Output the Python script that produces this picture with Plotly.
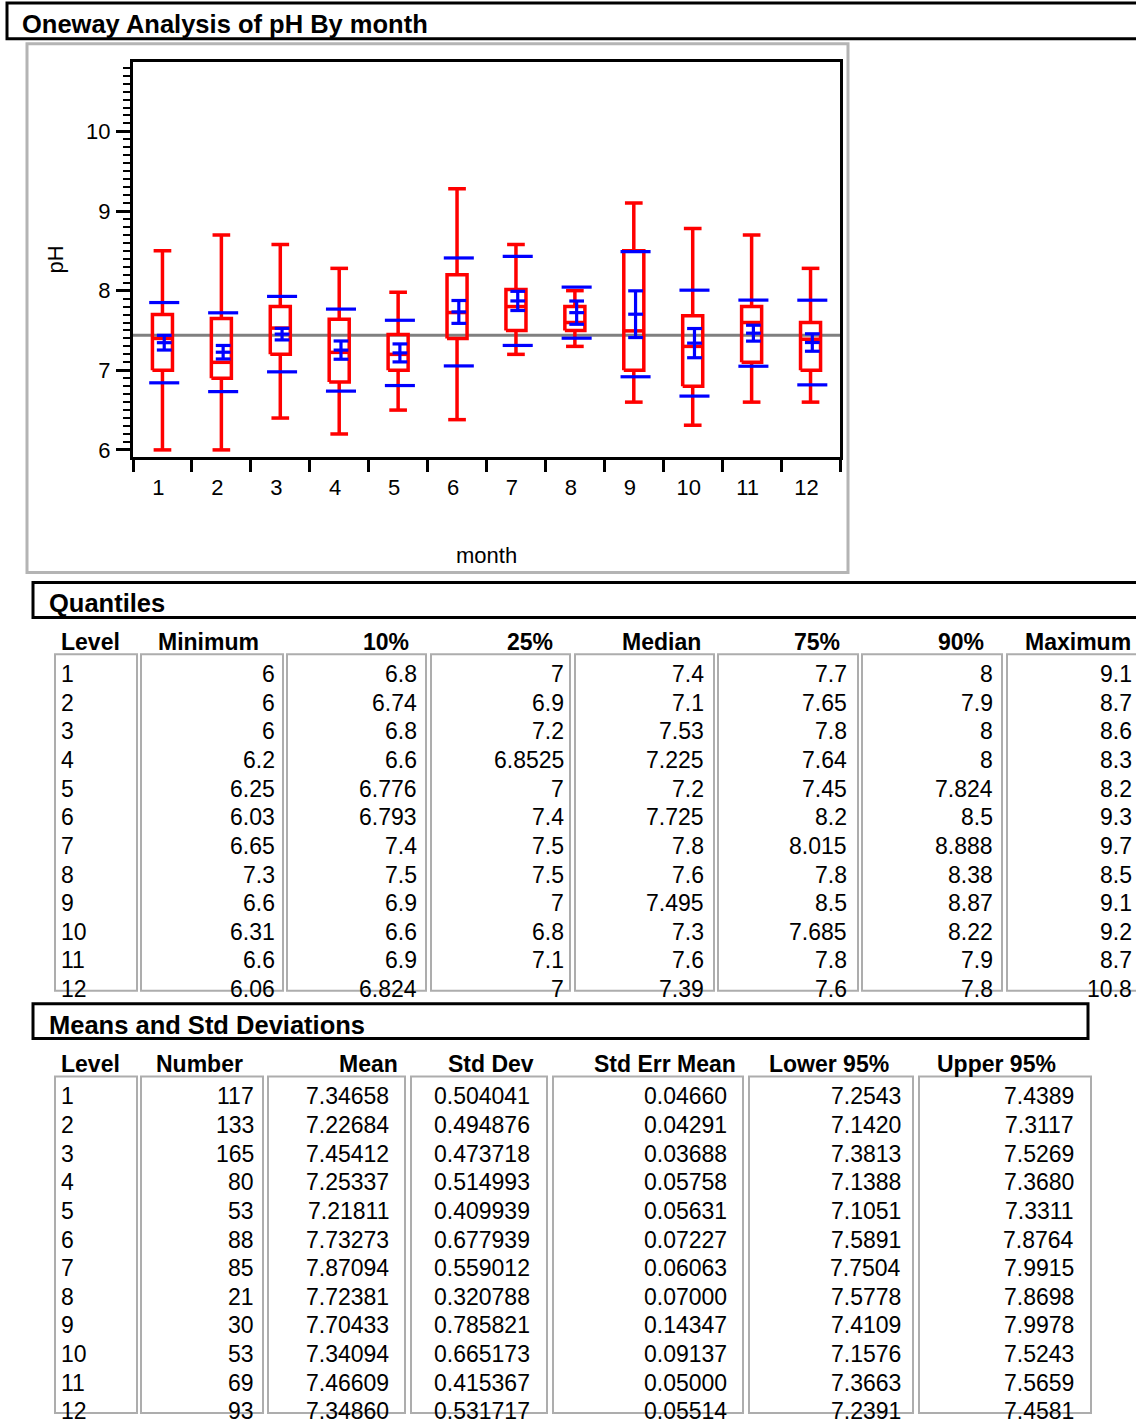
import plotly.graph_objects as go

# ---------------- data ----------------
months = [1, 2, 3, 4, 5, 6, 7, 8, 9, 10, 11, 12]
month_labels = [str(m) for m in months]

q_min = [6, 6, 6, 6.2, 6.25, 6.03, 6.65, 7.3, 6.6, 6.31, 6.6, 6.06]
q10 = [6.8, 6.74, 6.8, 6.6, 6.776, 6.793, 7.4, 7.5, 6.9, 6.6, 6.9, 6.824]
q25 = [7, 6.9, 7.2, 6.8525, 7, 7.4, 7.5, 7.5, 7, 6.8, 7.1, 7]
q50 = [7.4, 7.1, 7.53, 7.225, 7.2, 7.725, 7.8, 7.6, 7.495, 7.3, 7.6, 7.39]
q75 = [7.7, 7.65, 7.8, 7.64, 7.45, 8.2, 8.015, 7.8, 8.5, 7.685, 7.8, 7.6]
q90 = [8, 7.9, 8, 8, 7.824, 8.5, 8.888, 8.38, 8.87, 8.22, 7.9, 7.8]
q_max = [9.1, 8.7, 8.6, 8.3, 8.2, 9.3, 9.7, 8.5, 9.1, 9.2, 8.7, 10.8]

# whisker ends as drawn in the box plot
whisker_lo = [6.0, 6.0, 6.4, 6.2, 6.5, 6.38, 7.2, 7.3, 6.6, 6.31, 6.6, 6.6]
whisker_hi = [8.5, 8.7, 8.58, 8.28, 7.98, 9.28, 8.58, 8.0, 9.1, 8.78, 8.7, 8.28]

n_obs = [117, 133, 165, 80, 53, 88, 85, 21, 30, 53, 69, 93]
mean = [7.34658, 7.22684, 7.45412, 7.25337, 7.21811, 7.73273, 7.87094, 7.72381,
        7.70433, 7.34094, 7.46609, 7.34860]
std_dev = [0.504041, 0.494876, 0.473718, 0.514993, 0.409939, 0.677939, 0.559012,
           0.320788, 0.785821, 0.665173, 0.415367, 0.531717]
std_err = [0.04660, 0.04291, 0.03688, 0.05758, 0.05631, 0.07227, 0.06063, 0.07000,
           0.14347, 0.09137, 0.05000, 0.05514]
lower95 = [7.2543, 7.1420, 7.3813, 7.1388, 7.1051, 7.5891, 7.7504, 7.5778,
           7.4109, 7.1576, 7.3663, 7.2391]
upper95 = [7.4389, 7.3117, 7.5269, 7.3680, 7.3311, 7.8764, 7.9915, 7.8698,
           7.9978, 7.5243, 7.5659, 7.4581]
grand_mean = 7.44

title_main = "Oneway Analysis of pH By month"
title_quant = "Quantiles"
title_means = "Means and Std Deviations"
quant_headers = ["Level", "Minimum", "10%", "25%", "Median", "75%", "90%", "Maximum"]
means_headers = ["Level", "Number", "Mean", "Std Dev", "Std Err Mean", "Lower 95%", "Upper 95%"]

# ---------------- layout helpers ----------------
W, H = 1136, 1425
FONT = "Liberation Sans, Arial, sans-serif"
RED = "#FF0000"
BLUE = "#0000FF"
TDY = 3.5  # vertical text adjustment


def X(px):
    return px / W


def Y(py):
    return 1 - py / H


fig = go.Figure()

# grand mean line
fig.add_trace(go.Scatter(x=[0.5, 12.5], y=[grand_mean, grand_mean], mode="lines",
                         line=dict(color="#808080", width=3), hoverinfo="skip"))

# red box plots
HW, CW = 0.17, 0.15
bx, by = [], []
for m, lo, a, md, b, hi in zip(months, whisker_lo, q25, q50, q75, whisker_hi):
    bx += [m - HW, m + HW, m + HW, m - HW, m - HW, None]
    by += [a, a, b, b, a, None]
    bx += [m - HW, m + HW, None]
    by += [md, md, None]
    bx += [m, m, None, m, m, None]
    by += [b, hi, None, a, lo, None]
    bx += [m - CW, m + CW, None, m - CW, m + CW, None]
    by += [hi, hi, None, lo, lo, None]
fig.add_trace(go.Scatter(x=bx, y=by, mode="lines", line=dict(color=RED, width=3.5),
                         hoverinfo="skip"))

# blue mean / std dev / CI marks
SW, MW, OFF = 0.255, 0.125, 0.03
ux, uy = [], []
for m, mu, sd, lo, hi in zip(months, mean, std_dev, lower95, upper95):
    c = m + OFF
    ux += [c - SW, c + SW, None, c - SW, c + SW, None]
    uy += [mu + sd, mu + sd, None, mu - sd, mu - sd, None]
    ux += [c, c, None]
    uy += [lo, hi, None]
    ux += [c - MW, c + MW, None, c - MW, c + MW, None, c - MW, c + MW, None]
    uy += [lo, lo, None, hi, hi, None, mu, mu, None]
fig.add_trace(go.Scatter(x=ux, y=uy, mode="lines", line=dict(color=BLUE, width=3.2),
                         hoverinfo="skip"))

shapes = []
annotations = []


def rect(x0, y0, x1, y1, color="black", width=3):
    shapes.append(dict(type="rect", xref="paper", yref="paper",
                       x0=X(x0), x1=X(x1), y0=Y(y0), y1=Y(y1),
                       line=dict(color=color, width=width), fillcolor="rgba(0,0,0,0)",
                       layer="below"))


def text(x, y, s, anchor="left", size=23, bold=False, angle=0):
    annotations.append(dict(xref="paper", yref="paper", x=X(x), y=Y(y + TDY),
                            text=("<b>%s</b>" % s) if bold else s,
                            xanchor=anchor, yanchor="middle", showarrow=False,
                            textangle=angle,
                            font=dict(family=FONT, size=size, color="black")))


# section headers
rect(7, 3, 1160, 39)
text(20, 21, title_main, size=25.5, bold=True)
rect(27, 44, 848, 575, color="#b4b4b4", width=3)
rect(33, 585, 1160, 620)
text(47, 602, title_quant, size=25.5, bold=True)
rect(33, 1008, 1088, 1043)
text(47, 1026, title_means, size=25.5, bold=True)

# axis titles
text(55, 257, "pH", anchor="center", size=22, angle=-90)
text(486, 554, "month", anchor="center", size=22)

# ---------------- Quantiles table ----------------
q_boxes = [(55, 137), (141, 283), (287, 426), (431, 570), (575, 714), (718, 858),
           (862, 1002), (1007, 1170)]
q_val_right = [None, 277, 419, 566, 706, 849, 995, 1134]
q_head_right = [None, 261, 411, 555, 703, 842, 986, 1133]
for x0, x1 in q_boxes:
    rect(x0, 657, x1, 995, color="#adadad", width=2)
text(59, 641, quant_headers[0], bold=True)
for j in range(1, 8):
    text(q_head_right[j], 641, quant_headers[j], anchor="right", bold=True)
q_cols = [q_min, q10, q25, q50, q75, q90, q_max]
row0, dy = 673.5, 28.75
for i, m in enumerate(months):
    yy = row0 + i * dy
    text(59, yy, month_labels[i])
    for j, col in enumerate(q_cols):
        text(q_val_right[j + 1], yy, "%g" % col[i], anchor="right")

# ---------------- Means table ----------------
m_boxes = [(55, 137), (141, 263), (268, 405), (411, 547), (553, 743), (749, 913), (919, 1091)]
m_val_right = [None, 256, 391, 532, 729, 903, 1076]
m_head_right = [None, 245, 400, 536, 738, 891, 1058]
for x0, x1 in m_boxes:
    rect(x0, 1081, x1, 1419, color="#adadad", width=2)
text(59, 1065, means_headers[0], bold=True)
for j in range(1, 7):
    text(m_head_right[j], 1065, means_headers[j], anchor="right", bold=True)
m_cols = [
    ["%d" % v for v in n_obs],
    ["%.5f" % v for v in mean],
    ["%.6f" % v for v in std_dev],
    ["%.5f" % v for v in std_err],
    ["%.4f" % v for v in lower95],
    ["%.4f" % v for v in upper95],
]
row0m = 1097.5
for i, m in enumerate(months):
    yy = row0m + i * dy
    text(59, yy, month_labels[i])
    for j, col in enumerate(m_cols):
        text(m_val_right[j + 1], yy, col[i], anchor="right")

fig.update_layout(
    width=W, height=H, margin=dict(l=0, r=0, t=0, b=0),
    paper_bgcolor="white", plot_bgcolor="white", showlegend=False,
    font=dict(family=FONT, size=22, color="black"),
    shapes=shapes, annotations=annotations,
    xaxis=dict(domain=[X(133), X(840)], range=[0.5, 12.5],
               tickmode="array", tickvals=months, ticktext=month_labels,
               ticks="", showline=True, linecolor="black", linewidth=3, mirror=True,
               showgrid=False, zeroline=False, ticklabelstandoff=9, ticklabelshift=-4,
               tickfont=dict(family=FONT, size=22, color="black"),
               minor=dict(tickmode="linear", tick0=0.5, dtick=1, ticks="outside",
                          ticklen=12, tickwidth=3, tickcolor="black")),
    yaxis=dict(domain=[Y(459), Y(62)], range=[5.91, 10.875],
               tickmode="array", tickvals=[6, 7, 8, 9, 10],
               ticks="outside", ticklen=14, tickwidth=3, tickcolor="black",
               showline=True, linecolor="black", linewidth=3, mirror=True,
               showgrid=False, zeroline=False, ticklabelstandoff=1,
               tickfont=dict(family=FONT, size=22, color="black"),
               minor=dict(tickmode="linear", tick0=0, dtick=0.1, ticks="outside",
                          ticklen=7, tickwidth=2, tickcolor="black")),
)

fig.write_html("out.html", config={"displayModeBar": False},
               post_script="document.body.style.margin='0px';document.body.style.overflow='hidden';")
